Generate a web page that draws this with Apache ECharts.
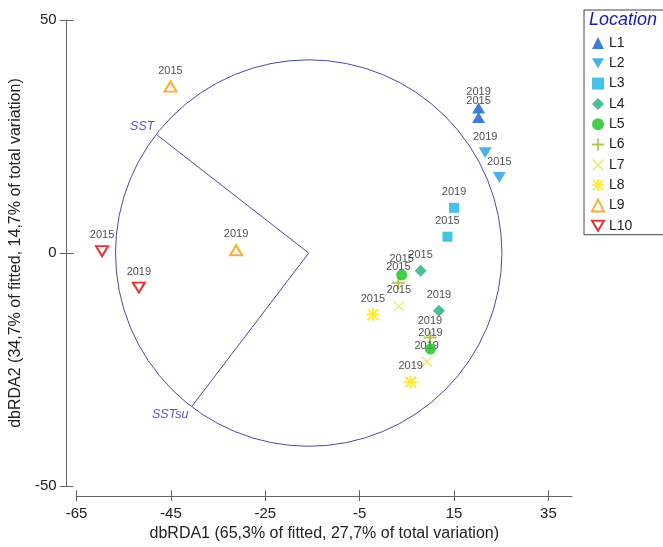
<!DOCTYPE html>
<html>
<head>
<meta charset="utf-8">
<script src="https://cdn.jsdelivr.net/npm/echarts@6/dist/echarts.min.js"></script>
<style>
  html, body { margin: 0; padding: 0; background: #fff; }
  #chart { width: 663px; height: 547px; }
</style>
</head>
<body>
<div id="chart"></div>
<script>
// dbRDA ordination of sampling locations (2015 vs 2019) with SST vector overlay

const locations = ['L1', 'L2', 'L3', 'L4', 'L5', 'L6', 'L7', 'L8', 'L9', 'L10'];
const years = ['2015', '2019'];

// Site scores on the first two dbRDA axes
const dbRDA1_2015 = [20.2, 24.6, 13.6, 7.9, 3.9, 3.2, 3.3, -2.2, -45.1, -59.6];
const dbRDA2_2015 = [29.1, 16.2, 3.5, -3.8, -4.7, -6.4, -11.4, -13.2, 35.7, 0.4];
const dbRDA1_2019 = [20.2, 21.6, 15.0, 11.8, 10.0, 9.9, 9.2, 5.8, -31.2, -51.8];
const dbRDA2_2019 = [31.1, 21.5, 9.7, -12.4, -20.6, -18.1, -23.3, -27.7, 0.6, -7.4];

// Predictor vectors drawn inside the correlation circle
const vectorNames = ['SST', 'SSTsu'];
const vectorEndX = [-47.9, -40.5];
const vectorEndY = [25.3, -32.8];
const circleCenter = [-15.8, 0];
const circleRadius = [41.2];

// Axis ticks
const xTicks = [-65, -45, -25, -5, 15, 35];
const yTicks = [-50, 0, 50];

const FONT = '"Liberation Sans", Arial, sans-serif';
const AXIS_COLOR = '#666666';
const VECTOR_COLOR = '#4c4aa6';

const TRI_DOWN = 'path://M0,0H24L12,20Z';
const PLUS = 'path://M10.2,0H13.8V24H10.2Z M0,10.2H24V13.8H0Z';
const CROSS = 'path://M3.06,0.94L23.06,20.94L20.94,23.06L0.94,3.06Z M20.94,0.94L23.06,3.06L3.06,23.06L0.94,20.94Z';
const STAR = 'path://M0,10.2H24V13.8H0Z M10.2,0H13.8V24H10.2Z M3.27,0.73L23.27,20.73L20.73,23.27L0.73,3.27Z M20.73,0.73L23.27,3.27L3.27,23.27L0.73,20.73Z';

const markerStyles = [
  { symbol: 'triangle', size: [13, 11], color: '#0d5fcf' },
  { symbol: TRI_DOWN, size: [13, 11], color: '#1f9ee8' },
  { symbol: 'rect', size: 10, color: '#17b4e0' },
  { symbol: 'diamond', size: 12, color: '#1fae78' },
  { symbol: 'circle', size: 11, color: '#14c21c', z: 4 },
  { symbol: PLUS, size: 13, color: '#a6b81a' },
  { symbol: CROSS, size: 11, color: '#e6e65c' },
  { symbol: STAR, size: 13, color: '#ffe600' },
  { symbol: 'triangle', size: [12, 10], color: '#ff9a00', open: true },
  { symbol: TRI_DOWN, size: [12, 10], color: '#e00000', open: true }
];

function itemStyleFor(m) {
  return m.open
    ? { color: 'rgba(255,255,255,0)', borderColor: m.color, borderWidth: 2 }
    : { color: m.color };
}

const siteSeries = locations.map(function (loc, i) {
  const m = markerStyles[i];
  return {
    name: loc,
    type: 'scatter',
    xAxisIndex: 0,
    yAxisIndex: 0,
    z: m.z || 3,
    symbol: m.symbol,
    symbolSize: m.size,
    itemStyle: itemStyleFor(m),
    label: {
      show: true,
      position: 'inside',
      offset: [0, -16],
      formatter: '{b}',
      fontFamily: FONT,
      fontSize: 11,
      color: '#1e1e1e'
    },
    emphasis: { disabled: true },
    data: [
      { name: years[0], value: [dbRDA1_2015[i], dbRDA2_2015[i]] },
      { name: years[1], value: [dbRDA1_2019[i], dbRDA2_2019[i]] }
    ]
  };
});

const vectorSeries = vectorNames.map(function (v, i) {
  return {
    name: v,
    type: 'line',
    xAxisIndex: 0,
    yAxisIndex: 0,
    z: 1,
    silent: true,
    showSymbol: false,
    symbol: 'none',
    lineStyle: { color: VECTOR_COLOR, width: 1 },
    data: [circleCenter.slice(), [vectorEndX[i], vectorEndY[i]]]
  };
});

const vectorLabelOffsets = [[-15, -9], [-22, 9]];
const vectorLabelSeries = {
  type: 'scatter',
  xAxisIndex: 0,
  yAxisIndex: 0,
  z: 1,
  silent: true,
  symbolSize: 1,
  itemStyle: { color: 'rgba(0,0,0,0)' },
  data: vectorNames.map(function (v, i) {
    return {
      name: v,
      value: [vectorEndX[i], vectorEndY[i]],
      label: {
        show: true,
        position: 'inside',
        offset: vectorLabelOffsets[i],
        formatter: '{b}',
        fontFamily: FONT,
        fontStyle: 'italic',
        fontSize: 12.5,
        color: '#2e2ec0'
      }
    };
  })
};

const circleSeries = {
  type: 'custom',
  xAxisIndex: 0,
  yAxisIndex: 0,
  z: 1,
  silent: true,
  clip: false,
  data: [[circleCenter[0], circleCenter[1], circleRadius[0]]],
  renderItem: function (params, api) {
    const c = api.coord([api.value(0), api.value(1)]);
    const s = api.size([api.value(2), api.value(2)]);
    return {
      type: 'circle',
      shape: { cx: c[0], cy: c[1], r: (s[0] + s[1]) / 2 },
      style: { fill: 'none', stroke: VECTOR_COLOR, lineWidth: 1 }
    };
  }
};

const baseX = {
  type: 'value',
  min: -65,
  max: 40,
  interval: 20,
  position: 'bottom',
  offset: 10,
  splitLine: { show: false }
};
const baseY = {
  type: 'value',
  min: -50,
  max: 50,
  interval: 50,
  position: 'left',
  offset: 10,
  splitLine: { show: false }
};

const option = {
  backgroundColor: '#ffffff',
  animation: false,
  title: {
    text: 'Location',
    left: 589,
    top: 11,
    padding: 0,
    textStyle: {
      fontFamily: FONT,
      fontStyle: 'italic',
      fontWeight: 'normal',
      fontSize: 18,
      color: '#1c1cb0'
    }
  },
  legend: {
    orient: 'vertical',
    left: 584,
    top: 10,
    padding: [26, 40, 2, 7],
    borderColor: '#444',
    borderWidth: 1,
    itemWidth: 12,
    itemHeight: 12,
    itemGap: 6.3,
    textStyle: { fontFamily: FONT, fontSize: 14, color: '#222', lineHeight: 14 },
    data: locations.map(function (loc, i) {
      return { name: loc, itemStyle: itemStyleFor(markerStyles[i]) };
    })
  },
  grid: { left: 75, top: 20, width: 497, height: 470, containLabel: false },
  xAxis: [
    Object.assign({}, baseX, {
      name: 'dbRDA1 (65,3% of fitted, 27,7% of total variation)',
      nameLocation: 'middle',
      nameGap: 27,
      nameTextStyle: { fontFamily: FONT, fontSize: 16, color: '#222' },
      axisLine: { show: true, onZero: false, lineStyle: { color: AXIS_COLOR, width: 1 } },
      axisTick: { show: true, inside: false, length: 5, customValues: xTicks, lineStyle: { color: AXIS_COLOR } },
      axisLabel: { show: true, margin: 10, customValues: xTicks, fontFamily: FONT, fontSize: 15, color: '#222' }
    }),
    Object.assign({}, baseX, {
      axisLine: { show: false, onZero: false },
      axisTick: { show: true, inside: true, length: 6, customValues: xTicks, lineStyle: { color: AXIS_COLOR } },
      axisLabel: { show: false }
    })
  ],
  yAxis: [
    Object.assign({}, baseY, {
      name: 'dbRDA2 (34,7% of fitted, 14,7% of total variation)',
      nameLocation: 'middle',
      nameGap: 38,
      nameRotate: 90,
      nameTextStyle: { fontFamily: FONT, fontSize: 16, color: '#222' },
      axisLine: { show: true, onZero: false, lineStyle: { color: AXIS_COLOR, width: 1 } },
      axisTick: { show: true, inside: false, length: 7, customValues: yTicks, lineStyle: { color: AXIS_COLOR } },
      axisLabel: { show: true, margin: 10, customValues: yTicks, fontFamily: FONT, fontSize: 15, color: '#222' }
    }),
    Object.assign({}, baseY, {
      axisLine: { show: false, onZero: false },
      axisTick: { show: true, inside: true, length: 7, customValues: yTicks, lineStyle: { color: AXIS_COLOR } },
      axisLabel: { show: false }
    })
  ],
  series: [circleSeries].concat(vectorSeries, [vectorLabelSeries], siteSeries)
};

const chart = echarts.init(document.getElementById('chart'), null, { renderer: 'canvas' });
chart.setOption(option);
</script>
</body>
</html>
